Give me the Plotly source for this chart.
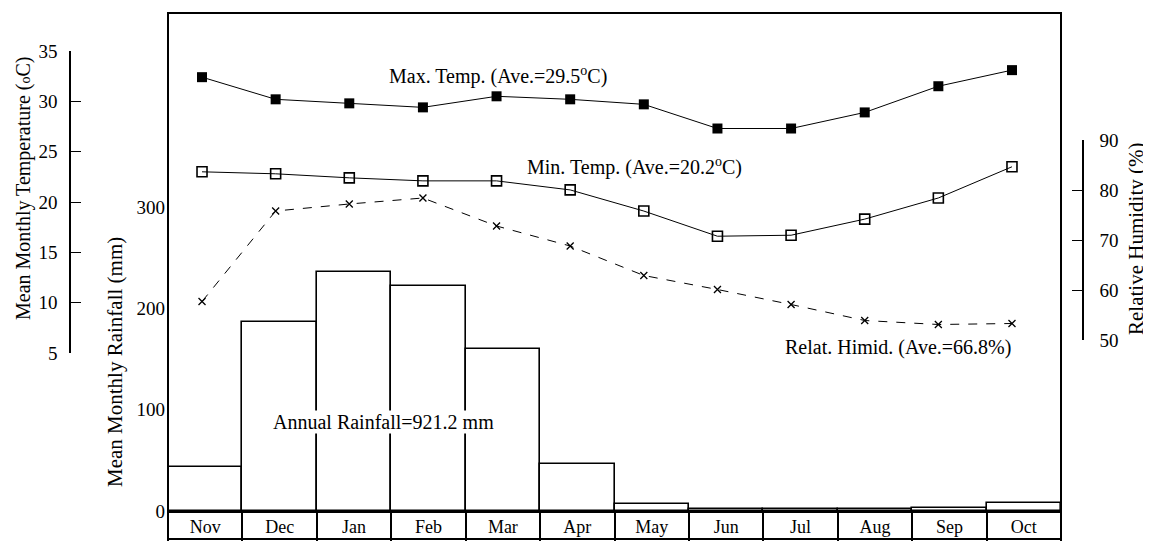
import plotly.graph_objects as go

# ---------------- data ----------------
months = ["Nov", "Dec", "Jan", "Feb", "Mar", "Apr", "May", "Jun", "Jul", "Aug", "Sep", "Oct"]
rainfall_mm = [43, 187, 236, 222, 160, 46, 7, 2, 2, 2, 3, 8]
max_temp_c = [32.4, 30.2, 29.8, 29.4, 30.5, 30.2, 29.7, 27.3, 27.3, 28.9, 31.5, 33.1]
min_temp_c = [23.0, 22.8, 22.4, 22.1, 22.1, 21.2, 19.1, 16.6, 16.7, 18.3, 20.4, 23.5]
rel_humidity = [57.7, 75.8, 77.2, 78.4, 72.8, 68.8, 62.9, 60.1, 57.1, 53.9, 53.1, 53.3]

temp_ticks = [5, 10, 15, 20, 25, 30, 35]
rain_ticks = [0, 100, 200, 300]
hum_ticks = [50, 60, 70, 80, 90]

# ---------------- layout helpers ----------------
# the page body has an 8px margin, so the figure is 8px smaller on each axis
OFF = 8
W, H = 1151 - OFF, 545 - OFF
FONT = "Liberation Serif, Times New Roman, serif"


def px(x):
    return (x - OFF) / W


def py(y):
    return (H - (y - OFF)) / H


fig = go.Figure()

fig.add_trace(go.Bar(
    x=months, y=rainfall_mm, xaxis="x", yaxis="y",
    marker=dict(color="white", line=dict(color="black", width=1.6)),
    width=1, showlegend=False,
))

fig.add_trace(go.Scatter(
    x=months, y=max_temp_c, xaxis="x2", yaxis="y2", mode="lines+markers",
    line=dict(color="black", width=1),
    marker=dict(symbol="square", size=10, color="black"),
    cliponaxis=False, showlegend=False,
))
fig.add_trace(go.Scatter(
    x=months, y=min_temp_c, xaxis="x2", yaxis="y2", mode="lines+markers",
    line=dict(color="black", width=1),
    marker=dict(symbol="square-open", size=10, color="black", line=dict(width=1.6)),
    cliponaxis=False, showlegend=False,
))
fig.add_trace(go.Scatter(
    x=months, y=rel_humidity, xaxis="x2", yaxis="y3", mode="lines+markers",
    line=dict(color="black", width=1, dash="dash"),
    marker=dict(symbol="x-thin", size=7, color="black", line=dict(width=1.3, color="black")),
    cliponaxis=False, showlegend=False,
))

axis_font = dict(family=FONT, size=19, color="black")

fig.update_layout(
    template="none",
    width=W, height=H,
    margin=dict(l=0, r=0, t=0, b=0, pad=0),
    paper_bgcolor="white", plot_bgcolor="rgba(0,0,0,0)",
    bargap=0,
    font=dict(family=FONT, color="black"),
    xaxis=dict(
        domain=[px(168), px(1061)], anchor="y", type="category", automargin=False,
        categoryorder="array", categoryarray=months, range=[-0.5, 11.5],
        showline=True, linecolor="black", linewidth=1.6,
        ticks="outside", tickson="boundaries", ticklen=28, tickwidth=1.6, tickcolor="black",
        ticklabelstandoff=-1, tickfont=dict(family=FONT, size=18, color="black"),
        showgrid=False, zeroline=False, fixedrange=True,
    ),
    xaxis2=dict(
        domain=[px(165.2), px(1048.8)], anchor="y2", type="category", automargin=False,
        categoryorder="array", categoryarray=months, range=[-0.5, 11.5],
        visible=False, fixedrange=True,
    ),
    yaxis=dict(
        domain=[py(511), py(13)], anchor="x", automargin=False,
        range=[0, (511 - 13) / 1.013],
        tickvals=rain_ticks, ticks="", showline=False, showgrid=False, zeroline=False,
        tickfont=axis_font, ticklabelstandoff=2,
    ),
    yaxis2=dict(
        domain=[py(353), py(51)], anchor="free", position=px(70), side="left",
        automargin=False, range=[5, 35], tickvals=temp_ticks,
        showline=True, linecolor="black", linewidth=1.6,
        ticks="inside", ticklen=10, tickwidth=1.4, tickcolor="black",
        showgrid=False, zeroline=False, tickfont=axis_font, ticklabelstandoff=8,
    ),
    yaxis3=dict(
        domain=[py(340), py(140)], anchor="free", position=px(1083), side="right",
        automargin=False, range=[50, 90], tickvals=hum_ticks,
        showline=True, linecolor="black", linewidth=1.6,
        ticks="inside", ticklen=10, tickwidth=1.4, tickcolor="black",
        showgrid=False, zeroline=False, tickfont=axis_font, ticklabelstandoff=12,
    ),
    shapes=[
        dict(type="rect", xref="paper", yref="paper",
             x0=px(168), x1=px(1061), y0=py(539), y1=py(13),
             line=dict(color="black", width=2), layer="above"),
    ],
)

label_font = dict(family=FONT, size=20, color="black")
annotations = [
    dict(text="Max. Temp. (Ave.=29.5<sup>o</sup>C)", x=px(498), y=py(75)),
    dict(text="Min. Temp. (Ave.=20.2<sup>o</sup>C)", x=px(634), y=py(167)),
    dict(text="Relat. Himid. (Ave.=66.8%)", x=px(898), y=py(347)),
    dict(text="Annual Rainfall=921.2 mm", x=px(383), y=py(422), bgcolor="white"),
    dict(text="Mean Monthly Temperature (<span style='font-size:14px'>o</span>C)",
         x=px(23), y=py(188), textangle=-90),
    dict(text="Mean Monthly Rainfall (mm)", x=px(115), y=py(362), textangle=-90,
         font=dict(family=FONT, size=21, color="black")),
    dict(text="Relative Humidity (%)", x=px(1136), y=py(239), textangle=-90,
         font=dict(family=FONT, size=21, color="black")),
]
for a in annotations:
    a.setdefault("font", label_font)
    fig.add_annotation(xref="paper", yref="paper", showarrow=False,
                       xanchor="center", yanchor="middle", borderpad=0, **a)

fig.write_html("out.html")
